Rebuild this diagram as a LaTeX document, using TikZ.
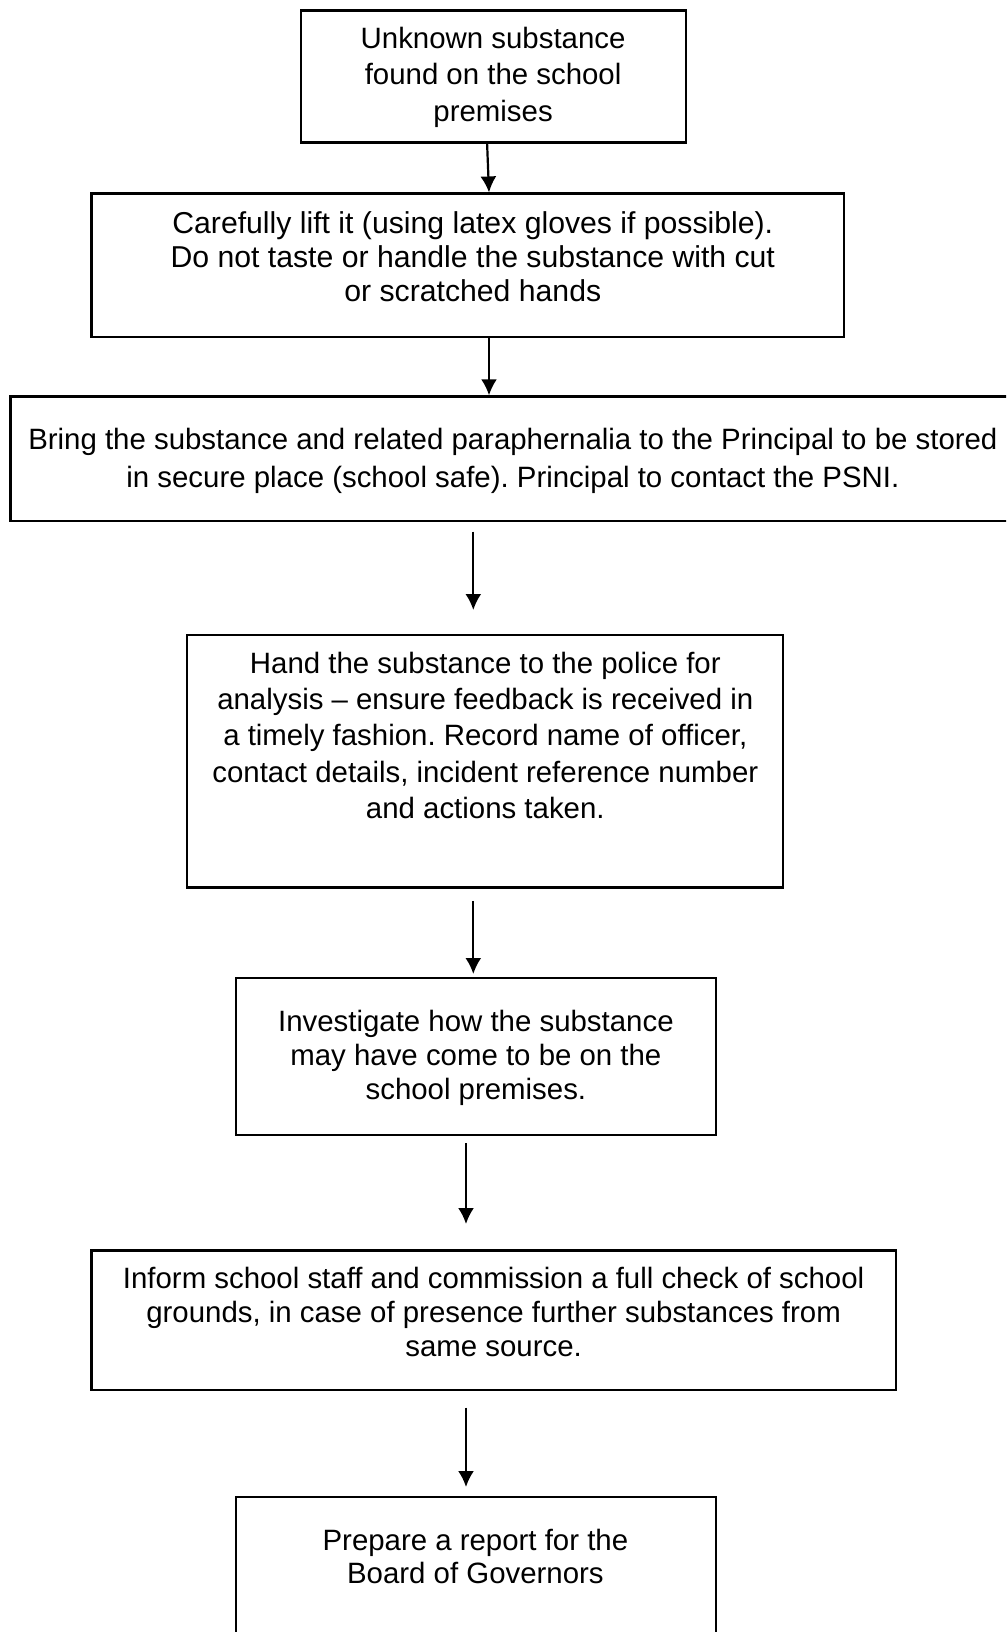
\documentclass[tikz,border=0pt]{standalone}
\usepackage{fontspec}
\setmainfont{Liberation Sans}
\usetikzlibrary{arrows.meta}
\begin{document}
\frenchspacing
\begin{tikzpicture}[x=1pt,y=-1pt,
  box/.style={draw, line width=2.2pt, inner sep=0pt, minimum width=#1},
  txt/.style={align=center, inner sep=0pt, font=\fontsize{29.4}{#1}\selectfont},
  arr/.style={line width=2.2pt, -{Latex[length=16pt,width=16pt]}}]
\useasboundingbox (0,0) rectangle (1006,1632);
\clip (0,0) rectangle (1006,1632);
\fill[white] (0,0) rectangle (1006,1632);
% boxes
\node[box=385pt, minimum height=132.1pt] (b1) at (493.1,76.5) {};
\node[box=752.2pt, minimum height=143.5pt] (b2) at (467.6,265.3) {};
\node[box=1001.6pt, minimum height=124.8pt] (b3) at (511.2,458.8) {};
\node[box=596pt, minimum height=252.8pt] (b4) at (485.3,761) {};
\node[box=479.6pt, minimum height=157.1pt] (b5) at (475.9,1056.5) {};
\node[box=804.2pt, minimum height=139.4pt] (b6) at (493.6,1320.1) {};
\node[box=479.6pt, minimum height=163pt] (b7) at (475.9,1578.5) {};
% texts
\node[txt=36.4pt] (t1) at (493.1,77) {Unknown substance\\found on the school\\premises};
\node[txt=33.8pt, font=\fontsize{30.2}{33.8}\selectfont] (t2) at (472.8,256.5) {Carefully lift it (using latex gloves if possible).\\Do not taste or handle the substance with cut\\or scratched hands};
\node[txt=37.5pt] (t3) at (512.9,460.8) {Bring the substance and related paraphernalia to the Principal to be stored\\in secure place (school safe). Principal to contact the PSNI.};
\node[txt=36.4pt] (t4) at (485.3,735.4) {Hand the substance to the police for\\analysis -- ensure feedback is received in\\a timely fashion. Record name of officer,\\contact details, incident reference number\\and actions taken.};
\node[txt=34.3pt] (t5) at (475.9,1057.8) {Investigate how the substance\\may have come to be on the\\school premises.};
\node[txt=33.8pt] (t6) at (493.6,1312.2) {Inform school staff and commission a full check of school\\grounds, in case of presence further substances from\\same source.};
\node[txt=33.8pt] (t7) at (475.4,1556.5) {Prepare a report for the\\Board of Governors};
% connectors
\draw[arr] ([xshift=-6pt]b1.south) -- ([xshift=21.4pt]b2.north);
\draw[arr] ([xshift=21.4pt]b2.south) -- ([xshift=-22.2pt]b3.north);
\coordinate (a3s) at (473.3,531.6);
\coordinate (a3e) at (473.3,610);
\coordinate (a4s) at (473.3,900.9);
\coordinate (a4e) at (473.3,974);
\coordinate (a5s) at (466,1143);
\coordinate (a5e) at (466,1224);
\coordinate (a6s) at (466,1407.6);
\coordinate (a6e) at (466,1487);
\draw[arr] (a3s) -- (a3e);
\draw[arr] (a4s) -- (a4e);
\draw[arr] (a5s) -- (a5e);
\draw[arr] (a6s) -- (a6e);
\end{tikzpicture}
\end{document}
